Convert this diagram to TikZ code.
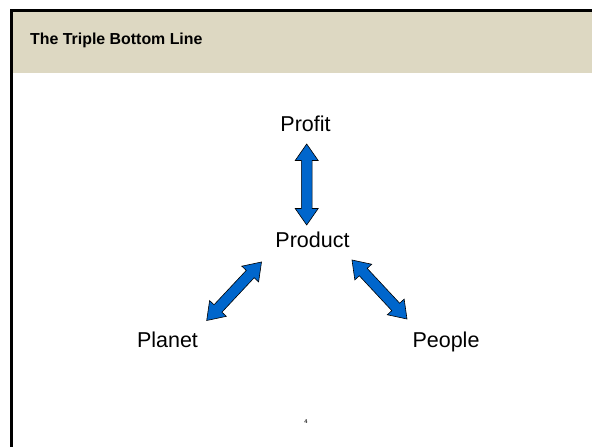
\documentclass[tikz,border=0pt]{standalone}
\usepackage{fontspec}
\setmainfont{Liberation Sans}
\usetikzlibrary{calc}
\definecolor{headerband}{RGB}{221,216,194}
\definecolor{arrowblue}{RGB}{0,102,204}

% head length, half head width, half shaft width of the two-way arrows
\newcommand{\headlen}{16.5pt}
\newcommand{\headhalf}{11.5pt}
\newcommand{\shafthalf}{5.4pt}

% filled two-way arrow with its tips at two named coordinates
\newcommand{\twowayarrow}[2]{%
  \filldraw[twoway] (#1)
    -- ($(#1)!\headlen!(#2)!\headhalf!90:(#2)$)
    -- ($(#1)!\headlen!(#2)!\shafthalf!90:(#2)$)
    -- ($(#2)!\headlen!(#1)!\shafthalf!-90:(#1)$)
    -- ($(#2)!\headlen!(#1)!\headhalf!-90:(#1)$)
    -- (#2)
    -- ($(#2)!\headlen!(#1)!\headhalf!90:(#1)$)
    -- ($(#2)!\headlen!(#1)!\shafthalf!90:(#1)$)
    -- ($(#1)!\headlen!(#2)!\shafthalf!-90:(#2)$)
    -- ($(#1)!\headlen!(#2)!\headhalf!-90:(#2)$)
    -- cycle;}

\tikzset{
  label/.style={anchor=base, inner sep=0pt, font=\fontsize{21.5}{26}\selectfont},
  title/.style={anchor=base west, inner sep=0pt, font=\fontsize{15.9}{19}\selectfont\bfseries},
  twoway/.style={fill=arrowblue, draw=black, line width=0.6pt, line join=miter},
}

\begin{document}
\begin{tikzpicture}[x=1pt, y=-1pt]
  \useasboundingbox (0,0) rectangle (592,447);

  % slide frame and header band
  \fill[headerband] (12.5,12) rectangle (592,72.5);
  \draw[line width=3pt] (11.3,447) -- (11.3,10.5) -- (592,10.5);
  \node[title] (heading) at (30,44) {The Triple Bottom Line};

  % the four terms
  \node[label] (profit)  at (305.5,131) {Profit};
  \node[label] (product) at (312.5,247) {Product};
  \node[label] (planet)  at (167.5,347) {Planet};
  \node[label] (people)  at (446,347)   {People};

  % arrow tips
  \coordinate (profit-end)   at (306.7,144);
  \coordinate (product-up)   at (306.7,225);
  \coordinate (product-left) at (261.5,262);
  \coordinate (planet-end)   at (206.7,320.5);
  \coordinate (product-right) at (352,260);
  \coordinate (people-end)   at (407,319);

  \twowayarrow{profit-end}{product-up}
  \twowayarrow{product-left}{planet-end}
  \twowayarrow{product-right}{people-end}

  % page number
  \node[inner sep=0pt, font=\fontsize{5.5}{6}\selectfont\bfseries, text=black!85] (pagenum) at (306,422) {4};
\end{tikzpicture}
\end{document}
